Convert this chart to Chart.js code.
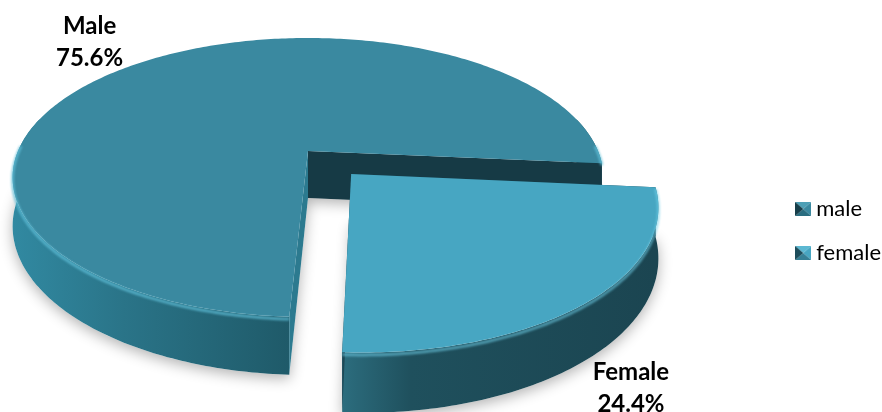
<!DOCTYPE html>
<html>
<head>
<title>Gender distribution</title>
<script src="https://cdn.jsdelivr.net/npm/chart.js"></script>
<style>
  html, body { margin: 0; padding: 0; background: #fff; }
  #wrap { width: 882px; height: 412px; position: relative; }
</style>
</head>
<body>
<div id="wrap"><canvas id="genderChart"></canvas></div>
<script>
// chart data
const categories = ['male', 'female'];
const sliceTitles = ['Male', 'Female'];
const shares = [75.6, 24.4];

// look of the slices
const topColors = ['#3a89a0', '#47a6c2'];
const explode = [0, 0.22];

// fake 3D view: ellipse centre, radii, perspective strength, wall height
const view = { cx: 308, cy: 151, rx: 290, ry: 134.5, persp: 0.19, depth: 47 };

function project(u, v, z) {
  const s = 1 / (1 - view.persp * v);
  return [view.cx + view.rx * u * s, view.cy + (view.ry * v + view.depth * z) * s];
}

function slicePoint(sl, a, r, z) {
  return project(sl.ou + r * Math.cos(a), sl.ov + r * Math.sin(a), z);
}

function traceArc(ctx, sl, from, to, z, move) {
  const steps = Math.max(2, Math.ceil(Math.abs(to - from) / 0.015));
  for (let i = 0; i <= steps; i++) {
    const p = slicePoint(sl, from + (to - from) * i / steps, 1, z);
    if (i === 0 && move) ctx.moveTo(p[0], p[1]); else ctx.lineTo(p[0], p[1]);
  }
}

function topPath(ctx, sl, z) {
  ctx.beginPath();
  const c = project(sl.ou, sl.ov, z);
  ctx.moveTo(c[0], c[1]);
  traceArc(ctx, sl, sl.a0, sl.a1, z, false);
  ctx.closePath();
}

// parts of the rim that face the viewer
function frontRanges(sl, pad) {
  const out = [];
  for (let k = -1; k <= 2; k++) {
    const lo = Math.max(sl.a0, 2 * Math.PI * k - pad);
    const hi = Math.min(sl.a1, 2 * Math.PI * k + Math.PI + pad);
    if (hi > lo) out.push([lo, hi]);
  }
  return out;
}

const wallStops = [
  [[0, '#3189a1'], [0.4, '#2a7488'], [1, '#1f5a69']],
  [[0, '#2c6d7e'], [0.22, '#1f505d'], [1, '#1b4551']]
];
const edgeColors = [['#2c7a8f', '#163a45'], ['#1d4957', '#1d4957']];

function drawSlice(ctx, sl, i) {
  // outer wall
  frontRanges(sl, 0.25).forEach(([lo, hi]) => {
    const xs = [slicePoint(sl, lo, 1, 0)[0], slicePoint(sl, hi, 1, 0)[0]];
    if (i === 0) xs.push(slicePoint(sl, Math.PI * 0.95, 1, 1)[0]);
    const g = ctx.createLinearGradient(Math.min(...xs), 0, Math.max(...xs), 0);
    wallStops[i].forEach(s => g.addColorStop(s[0], s[1]));
    ctx.beginPath();
    traceArc(ctx, sl, lo, hi, 0, true);
    traceArc(ctx, sl, hi, lo, 1, false);
    ctx.closePath();
    ctx.fillStyle = g;
    ctx.fill();
  });

  // cut faces along both radii
  [sl.a0, sl.a1].forEach((a, k) => {
    const c0 = project(sl.ou, sl.ov, 0), c1 = project(sl.ou, sl.ov, 1);
    const e0 = slicePoint(sl, a, 1, 0), e1 = slicePoint(sl, a, 1, 1);
    ctx.beginPath();
    ctx.moveTo(c0[0], c0[1]);
    ctx.lineTo(e0[0], e0[1]);
    ctx.lineTo(e1[0], e1[1]);
    ctx.lineTo(c1[0], c1[1]);
    ctx.closePath();
    ctx.fillStyle = edgeColors[i][k];
    ctx.fill();
  });

  // top face
  topPath(ctx, sl, 0);
  ctx.fillStyle = topColors[i];
  ctx.fill();

  // soft highlight on the front rim
  ctx.save();
  ctx.filter = 'blur(1px)';
  ctx.lineWidth = 3;
  ctx.strokeStyle = i === 0 ? 'rgba(95,190,215,0.75)' : 'rgba(110,205,230,0.6)';
  frontRanges(sl, 0.05).forEach(([lo, hi]) => {
    ctx.beginPath();
    traceArc(ctx, sl, lo, hi, 0.04, true);
    ctx.stroke();
  });
  ctx.restore();
}

const pie3d = {
  id: 'pie3d',
  beforeDatasetsDraw(chart) {
    const ctx = chart.ctx;
    const arcs = chart.getDatasetMeta(0).data;
    const slices = arcs.map((arc, i) => {
      const { startAngle, endAngle } = arc.getProps(['startAngle', 'endAngle'], true);
      const mid = (startAngle + endAngle) / 2;
      return { a0: startAngle, a1: endAngle, mid, ou: explode[i] * Math.cos(mid), ov: explode[i] * Math.sin(mid) };
    });
    chart.$slices = slices;

    // floor shadow
    ctx.save();
    ctx.shadowColor = 'rgba(0,0,0,0.3)';
    ctx.shadowBlur = 14;
    ctx.shadowOffsetY = 4;
    slices.forEach(sl => {
      topPath(ctx, sl, 1);
      ctx.fillStyle = '#ffffff';
      ctx.fill();
    });
    ctx.restore();

    slices.forEach((sl, i) => drawSlice(ctx, sl, i));
    return false;
  },
  afterDraw(chart) {
    const ctx = chart.ctx;
    // value labels sit just outside each slice
    const place = [{ r: 1.31, z: 0, dx: -9, dy: 3 }, { r: 1.15, z: 1, dx: -1, dy: 5 }];
    ctx.save();
    ctx.fillStyle = '#000000';
    ctx.font = 'bold 24px Lato, "Open Sans", sans-serif';
    ctx.textAlign = 'center';
    ctx.textBaseline = 'middle';
    (chart.$slices || []).forEach((sl, i) => {
      const p = slicePoint(sl, sl.mid, place[i].r, place[i].z);
      const x = p[0] + place[i].dx, y = p[1] + place[i].dy;
      ctx.fillText(sliceTitles[i], x, y - 16);
      ctx.fillText(shares[i].toFixed(1) + '%', x, y + 16);
    });
    ctx.restore();
  }
};

// bevelled legend markers
function makeIcon(base, light, dark, darkest) {
  const c = document.createElement('canvas');
  c.width = 16; c.height = 14;
  const g = c.getContext('2d');
  const cx = 8, cy = 7;
  const tri = (pts, col) => {
    g.beginPath();
    g.moveTo(cx, cy);
    pts.forEach(p => g.lineTo(p[0], p[1]));
    g.closePath();
    g.fillStyle = col;
    g.fill();
  };
  tri([[0, 0], [16, 0]], light);
  tri([[16, 0], [16, 14]], base);
  tri([[16, 14], [0, 14]], dark);
  tri([[0, 14], [0, 0]], darkest);
  return c;
}
const legendIcons = [
  makeIcon('#3a89a0', '#4d9fb5', '#2a6d80', '#173e4a'),
  makeIcon('#47a6c2', '#5cb8d2', '#357f95', '#1d4d5b')
];

function build() {
  new Chart(document.getElementById('genderChart'), {
    type: 'pie',
    data: {
      labels: categories,
      datasets: [{ data: shares, backgroundColor: topColors, borderWidth: 0 }]
    },
    options: {
      responsive: true,
      maintainAspectRatio: false,
      animation: false,
      rotation: 183,
      layout: { padding: { top: 50, right: -9 } },
      plugins: {
        tooltip: { enabled: false },
        legend: {
          position: 'right',
          labels: {
            usePointStyle: true,
            pointStyleWidth: 4,
            padding: 22,
            color: '#595959',
            font: { family: 'Lato', size: 22 },
            generateLabels: () => categories.map((c, i) => ({
              text: c, pointStyle: legendIcons[i], fillStyle: topColors[i],
              strokeStyle: topColors[i], lineWidth: 0, hidden: false, index: i, datasetIndex: 0
            }))
          }
        }
      }
    },
    plugins: [pie3d]
  });
}

if (document.fonts && document.fonts.load) {
  Promise.all([document.fonts.load('22px Lato'), document.fonts.load('bold 24px Lato')]).then(build, build);
} else {
  build();
}
</script>
</body>
</html>
